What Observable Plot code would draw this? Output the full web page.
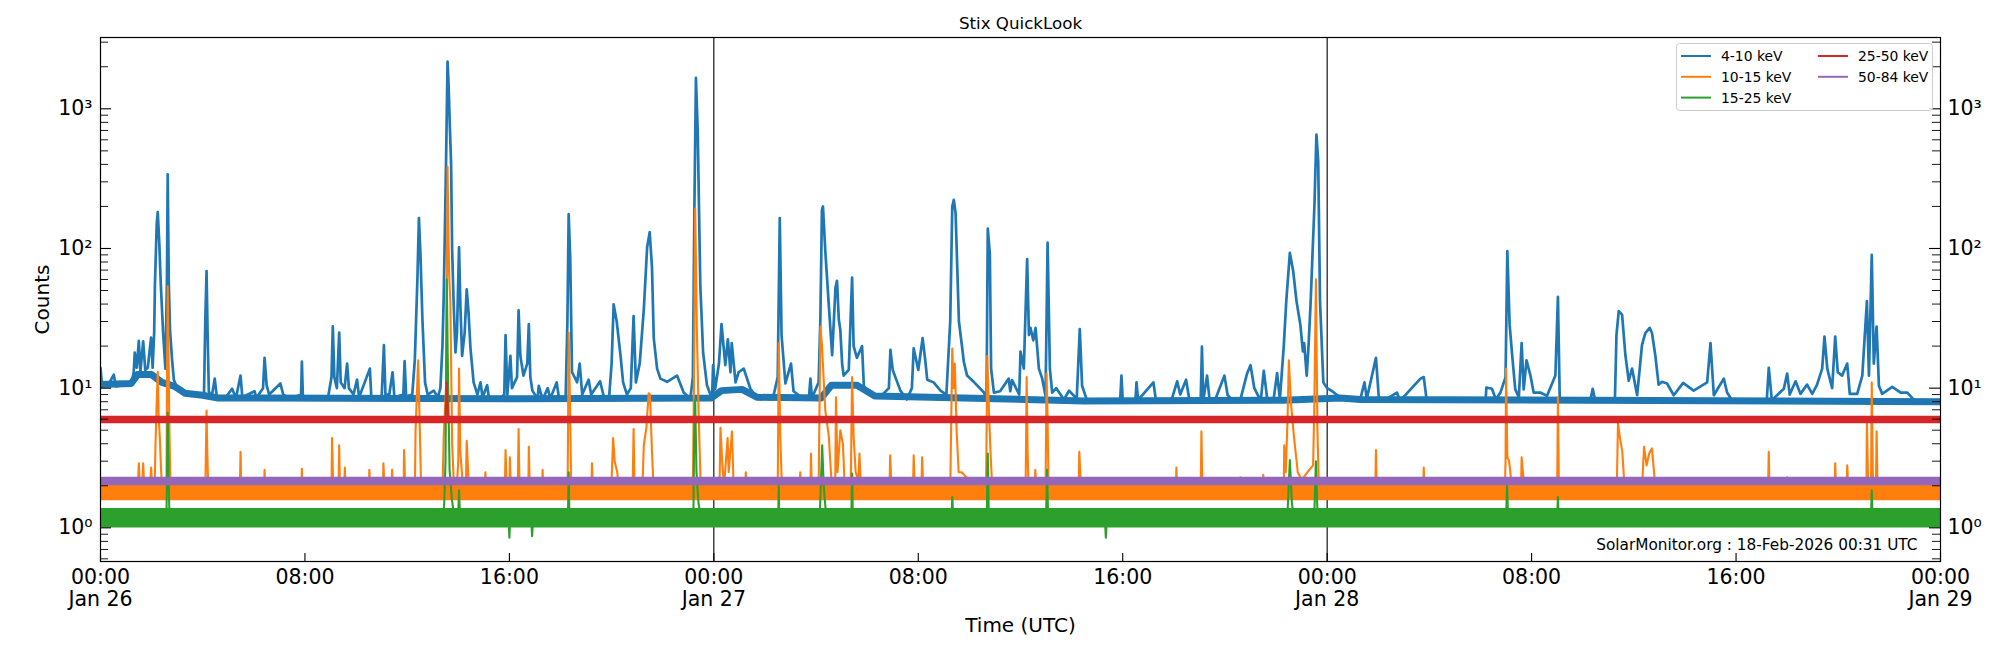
<!DOCTYPE html>
<html><head><meta charset="utf-8">
<script src="https://cdn.jsdelivr.net/npm/d3@7"></script>
<script src="https://cdn.jsdelivr.net/npm/@observablehq/plot@0.6"></script>
<style>
body{margin:0;background:#fff;}
#wrap{position:relative;width:2000px;height:650px;font-family:"DejaVu Sans";}
</style></head><body><div id="wrap"></div>
<script>
// ---------- labels, ticks ----------
const chartTitle = "Stix QuickLook";
const yLabel = "Counts";
const xLabel = "Time (UTC)";
const footer = "SolarMonitor.org : 18-Feb-2026 00:31 UTC";
const seriesLabels = ["4-10 keV", "10-15 keV", "15-25 keV", "25-50 keV", "50-84 keV"];
const seriesColors = ["#1f77b4", "#ff7f0e", "#2ca02c", "#d62728", "#9467bd"];
const yDomain = [0.574, 3240];
const yMajorTicks = [1, 10, 100, 1000];
const yMinorTicks = [0.6, 0.7, 0.8, 0.9, 2, 3, 4, 5, 6, 7, 8, 9, 20, 30, 40, 50, 60, 70, 80, 90,
  200, 300, 400, 500, 600, 700, 800, 900, 2000, 3000];
const xTickHours = [0, 8, 16, 24, 32, 40, 48, 56, 64, 72];
const dayLineHours = [24, 48];

// ---------- series: [hours since 26 Jan 2026 00:00 UTC, counts] ----------
const keV4_10 = [[0,14],[0.05,11],[0.3,10.5],[0.52,12.5],[0.6,10.3],[0.9,10.5],[1.1,11],[1.2,10.5],[1.3,13],[1.34,18],[1.42,14],[1.5,21.8],[1.56,13],[1.67,21.6],[1.75,13.5],[1.85,14],[1.98,23],[2.04,14],[2.1,25],[2.13,55],[2.2,150],[2.24,182],[2.3,110],[2.36,55],[2.45,25],[2.54,13.8],[2.6,60],[2.63,340],[2.67,60],[2.72,26],[2.8,16],[2.87,11.5],[3.0,10],[3.07,9.6],[3.3,9.2],[3.6,9.0],[3.9,8.8],[4.05,9.2],[4.1,30],[4.15,69],[4.19,25],[4.24,9.5],[4.35,8.6],[4.47,11.7],[4.55,8.7],[4.9,8.6],[5.15,9.9],[5.3,8.5],[5.48,12.3],[5.55,8.6],[6.03,9.5],[6.1,8.5],[6.36,10],[6.42,16.5],[6.5,10.5],[6.6,9],[7.04,10.8],[7.15,9],[7.4,8.4],[7.85,9],[7.88,15.5],[7.92,8.6],[8.4,8.3],[8.9,8.5],[9.04,12],[9.09,27.7],[9.15,12],[9.25,10],[9.34,25],[9.4,11],[9.55,10],[9.65,15],[9.72,10],[9.9,9],[10.04,11.5],[10.12,8.6],[10.54,13.8],[10.6,8.4],[11.0,8.5],[11.09,20.3],[11.15,9],[11.3,9],[11.43,13],[11.5,8.6],[11.85,9],[11.9,15.6],[11.96,8.7],[12.2,9],[12.3,16],[12.4,60],[12.46,165],[12.52,90],[12.6,30],[12.7,11],[12.8,9],[13.04,9.6],[13.2,8.6],[13.3,10],[13.38,20],[13.43,45],[13.52,400],[13.58,2175],[13.62,1500],[13.67,745],[13.72,400],[13.76,97],[13.82,40],[13.89,18],[13.95,25],[14.03,102],[14.08,40],[14.15,17],[14.25,25],[14.33,51],[14.4,35],[14.48,19],[14.6,11],[14.75,9],[14.87,11],[14.95,8.6],[15.13,10.5],[15.2,8.5],[15.6,8.3],[15.8,9],[15.85,24],[15.92,9],[16.04,17],[16.1,10],[16.3,12],[16.36,36],[16.43,17],[16.55,12.3],[16.7,15],[16.76,28.7],[16.82,12],[16.9,9.6],[17.1,8.4],[17.15,10.4],[17.3,8.3],[17.5,10],[17.6,8.4],[17.85,11],[17.95,8.3],[18.2,8.3],[18.27,30],[18.32,176],[18.38,86],[18.45,13],[18.55,12],[18.65,11],[18.75,15],[18.85,9],[19.1,11.5],[19.2,9],[19.55,11.2],[19.7,8.6],[19.9,8.5],[20.0,15],[20.08,39.8],[20.2,30],[20.35,17],[20.45,11],[20.6,9],[20.75,10],[20.86,32.8],[20.95,11],[21.1,15],[21.26,36.6],[21.39,102],[21.49,131],[21.58,73],[21.65,22.7],[21.78,13.8],[21.91,11.7],[22.17,11.1],[22.56,12.3],[22.82,9.3],[23.08,8.4],[23.18,12],[23.24,200],[23.30,1664],[23.37,680],[23.47,55],[23.58,18],[23.73,10.5],[23.93,8.4],[23.97,14.6],[24.05,9.8],[24.2,15],[24.3,28.7],[24.45,14.6],[24.55,22.4],[24.65,13],[24.7,21],[24.85,11],[24.97,13],[25.17,13.8],[25.43,9.9],[25.7,8.5],[26.3,8.3],[26.5,12],[26.58,165],[26.65,24],[26.8,10.8],[27.02,15],[27.12,9.5],[27.5,8.4],[27.72,8.5],[27.78,11.7],[27.84,8.5],[28.1,11],[28.17,31.8],[28.23,189],[28.27,200],[28.36,97],[28.5,39],[28.63,17.2],[28.76,52.5],[28.82,58.6],[28.89,31],[28.95,26],[29.02,15],[29.08,12.3],[29.28,13.5],[29.41,62],[29.47,20],[29.6,16.5],[29.8,20],[29.87,10.4],[30.1,9],[30.5,8.6],[30.85,10],[30.91,18.8],[31.0,13.5],[31.3,9.6],[31.55,8.3],[31.75,10],[31.82,19.3],[32.0,13.5],[32.17,22.8],[32.27,16],[32.35,11.5],[32.6,11],[32.87,9.6],[33.1,9],[33.25,30],[33.33,200],[33.39,223],[33.46,179],[33.59,30],[33.72,19.3],[33.78,15.5],[33.91,12.3],[34.17,11.1],[34.57,9.3],[34.67,8.4],[34.72,139],[34.8,91.5],[34.85,13.8],[34.96,9.3],[35.2,9.5],[35.54,11.7],[35.6,9.5],[35.67,11.4],[35.95,9],[36.0,18.3],[36.13,13.8],[36.26,84],[36.33,24],[36.39,27],[36.5,22],[36.59,27],[36.72,13.8],[36.85,11.7],[36.98,8.8],[37.06,110],[37.15,13.8],[37.24,9.3],[37.4,10],[37.7,8.3],[37.9,9.6],[38.2,8.4],[38.32,26.5],[38.41,10.4],[38.6,8.2],[39.5,8.0],[39.9,8.1],[39.95,12.3],[40.0,8.2],[40.5,8.3],[40.54,11],[40.6,8.2],[41.2,11],[41.3,8.2],[41.9,8.1],[42.13,11.2],[42.25,9],[42.48,11.5],[42.6,8.4],[43.05,8.2],[43.1,19.8],[43.15,8.1],[43.3,12.3],[43.4,8.2],[43.6,8.1],[43.98,12.3],[44.1,9],[44.3,8.1],[44.6,8.2],[44.87,12.8],[45.0,14.6],[45.15,10],[45.4,8.1],[45.52,13.3],[45.65,8.5],[45.9,8.2],[46.04,12.8],[46.15,8.3],[46.3,19.8],[46.4,42],[46.54,93],[46.67,69],[46.8,42],[46.95,28.5],[47.05,18.3],[47.1,21],[47.2,12.3],[47.27,20],[47.35,40],[47.5,200],[47.58,653],[47.65,420],[47.72,42],[47.85,11],[48.0,10],[48.2,9.5],[48.5,8.6],[49.0,8.3],[49.3,8.4],[49.46,11],[49.55,8.4],[49.91,16.5],[50.02,8.6],[50.3,8.3],[50.73,9.3],[50.85,8.1],[51.65,11.7],[51.78,12],[51.9,8.0],[53.0,8.1],[54.2,8.2],[54.23,10.1],[54.45,9.9],[54.6,8.3],[54.78,9.3],[54.98,12],[55.05,95.6],[55.14,28.5],[55.23,18],[55.36,9.8],[55.5,8.6],[55.61,21],[55.69,9.8],[55.8,15.8],[55.95,12.4],[56.08,9.3],[56.34,9.3],[56.6,8.8],[56.93,12.3],[57.03,45],[57.1,8.6],[57.3,8.0],[58.3,8.2],[58.39,9.9],[58.5,8.0],[59.26,8.3],[59.32,24],[59.41,35.6],[59.54,33.6],[59.67,17.2],[59.8,11.3],[59.93,13.8],[60.13,8.9],[60.32,20.4],[60.45,24.8],[60.62,27],[60.71,24.8],[60.84,17.2],[60.97,10.6],[61.1,11.1],[61.3,10.8],[61.56,8.9],[61.93,10.9],[62.34,9.6],[62.87,11],[63.0,21],[63.13,8.9],[63.52,11.7],[63.65,9.3],[63.82,8.3],[64.04,8.0],[65.2,8.1],[65.28,14],[65.4,8.2],[65.87,9.9],[66.0,12.7],[66.1,9],[66.33,11.2],[66.52,9.1],[66.78,10.6],[66.98,9.1],[67.17,10.6],[67.37,13.8],[67.46,23.4],[67.57,13.8],[67.76,10],[67.88,23.4],[67.98,13],[68.15,12.3],[68.35,15],[68.45,9.1],[68.74,9.1],[68.94,12.3],[69.12,42],[69.2,12.3],[69.31,90],[69.39,15],[69.5,27.6],[69.59,10.4],[69.72,9.1],[70.11,10.2],[70.44,9.3],[70.7,9.3],[71.0,8.1],[71.6,8.0],[72,8.2]];

const keV10_15 = [[0,1.8],[1.45,1.8],[1.5,2.9],[1.55,1.8],[1.62,1.8],[1.67,2.9],[1.72,1.8],[1.93,1.8],[1.98,2.7],[2.03,1.8],[2.12,2],[2.15,3.8],[2.2,8],[2.24,13.1],[2.28,6],[2.32,4.5],[2.37,2.6],[2.42,1.8],[2.58,1.8],[2.61,20],[2.63,53.5],[2.66,20],[2.69,6],[2.74,1.8],[4.1,1.8],[4.13,4],[4.15,6.9],[4.18,3.4],[4.22,1.8],[5.45,1.8],[5.48,3.5],[5.51,1.8],[6.4,1.8],[6.42,2.6],[6.45,1.8],[7.86,1.8],[7.88,2.65],[7.9,1.8],[9.04,1.8],[9.06,4.4],[9.1,2.2],[9.14,1.8],[9.31,1.8],[9.34,3.9],[9.37,1.8],[9.54,1.8],[9.56,2.7],[9.6,1.8],[10.5,1.8],[10.52,2.6],[10.56,1.8],[11.05,1.8],[11.07,2.9],[11.12,1.8],[11.39,1.8],[11.41,2.6],[11.45,1.8],[11.86,1.8],[11.88,3.6],[11.93,1.8],[12.3,1.8],[12.33,5.1],[12.43,15.8],[12.49,5.6],[12.55,1.8],[13.38,1.8],[13.43,4.5],[13.53,11],[13.58,384],[13.64,66],[13.69,42],[13.76,4],[13.82,2.2],[13.93,1.8],[14.0,3],[14.03,13.8],[14.08,3.5],[14.2,1.8],[14.3,2],[14.33,4.2],[14.41,2],[14.5,1.8],[15.04,1.8],[15.06,2.5],[15.1,1.8],[15.82,1.8],[15.85,3.6],[15.9,1.8],[16.0,1.8],[16.02,3.2],[16.06,1.8],[16.33,2],[16.36,5.1],[16.4,1.8],[16.74,1.8],[16.76,3.8],[16.8,1.8],[17.28,1.8],[17.3,2.6],[17.33,1.8],[18.28,2],[18.32,25],[18.38,6],[18.42,1.8],[19.21,1.8],[19.23,2.9],[19.27,1.8],[19.98,1.8],[20.06,4.4],[20.12,3],[20.22,2.5],[20.3,1.8],[20.82,1.8],[20.86,5.1],[20.9,1.8],[21.2,1.8],[21.26,3.9],[21.36,5.2],[21.45,9.2],[21.5,9],[21.58,3.5],[21.65,1.8],[23.18,1.8],[23.22,10],[23.27,193],[23.34,24],[23.41,6],[23.48,2.2],[23.55,1.8],[24.22,1.8],[24.26,5.2],[24.33,2.9],[24.4,2],[24.54,4.4],[24.58,2.5],[24.71,4.9],[24.78,1.8],[25.22,1.8],[25.25,2.5],[25.3,1.8],[26.5,1.8],[26.54,21],[26.6,4.5],[26.67,1.8],[27.35,1.8],[27.38,2.5],[27.42,1.8],[27.78,1.8],[27.8,3.4],[27.84,1.8],[28.1,1.8],[28.17,27.6],[28.23,20.4],[28.36,7],[28.5,4.5],[28.6,2.2],[28.75,2],[28.78,8.6],[28.84,2.5],[28.95,5],[29.05,4],[29.12,2],[29.36,2.2],[29.41,12],[29.47,4.5],[29.55,2.5],[29.65,2.2],[29.7,3.4],[29.75,2],[29.8,1.8],[30.87,1.8],[30.9,3.3],[30.96,1.8],[31.79,1.8],[31.82,3.3],[31.87,1.8],[32.12,1.8],[32.15,3.2],[32.2,1.8],[33.25,1.8],[33.3,8],[33.33,19.2],[33.38,10],[33.43,15],[33.5,5],[33.58,2.5],[33.7,2.5],[33.98,2.2],[34.05,1.8],[34.65,1.8],[34.7,17],[34.77,6.5],[34.83,3.4],[34.9,1.8],[36.2,1.8],[36.24,12],[36.28,3.4],[36.32,1.8],[36.55,1.8],[36.58,2.6],[36.63,1.8],[36.98,1.8],[37.02,12.7],[37.06,6],[37.1,1.8],[38.27,1.8],[38.3,3.5],[38.34,2.5],[38.38,1.8],[42.08,1.8],[42.1,2.7],[42.13,1.8],[43.05,1.8],[43.08,4.9],[43.12,1.8],[44.58,1.8],[44.6,2.3],[44.62,1.8],[45.48,1.8],[45.5,2.4],[45.52,1.8],[46.3,1.8],[46.32,3.9],[46.38,2.5],[46.45,6],[46.5,15.8],[46.58,8],[46.7,4.5],[46.85,2.5],[47.0,2.2],[47.3,2.6],[47.45,2.8],[47.5,8],[47.56,60.2],[47.62,5],[47.68,1.8],[49.88,1.8],[49.91,3.6],[49.94,1.8],[51.75,1.8],[51.78,2.7],[51.81,1.8],[54.95,1.8],[54.98,3],[55.0,13.8],[55.05,3.2],[55.12,3],[55.2,2.2],[55.3,1.8],[55.58,1.8],[55.61,3.2],[55.66,2.5],[55.75,1.8],[57.0,1.8],[57.03,8.6],[57.07,1.8],[59.33,1.8],[59.38,5.65],[59.45,4.5],[59.55,3.5],[59.62,2.2],[59.66,1.8],[60.33,1.8],[60.35,2.5],[60.4,3.8],[60.5,2.8],[60.6,3.4],[60.71,3.7],[60.8,2.4],[60.85,1.8],[65.25,1.8],[65.28,3.5],[65.31,1.8],[65.97,1.8],[66.0,2.3],[66.05,1.8],[67.85,1.8],[67.88,2.9],[67.92,1.8],[68.32,1.8],[68.35,2.8],[68.4,1.8],[69.1,1.8],[69.12,5.8],[69.16,2.5],[69.19,1.8],[69.28,1.8],[69.31,11],[69.35,2.5],[69.38,1.8],[69.47,1.8],[69.5,4.9],[69.54,1.8],[72,1.8]];

const keV15_25 = [[0,1.18],[2.58,1.18],[2.61,3],[2.63,6.7],[2.66,2.5],[2.7,1.18],[13.4,1.18],[13.45,1.5],[13.5,3],[13.55,60],[13.6,11],[13.66,2.6],[13.75,1.6],[13.85,1.18],[14.0,1.3],[14.03,1.86],[14.07,1.18],[15.97,1.18],[16.0,0.85],[16.03,1.18],[16.85,1.18],[16.89,0.87],[16.93,1.18],[18.29,1.18],[18.32,2.5],[18.35,1.18],[23.2,1.18],[23.23,4.5],[23.27,8.4],[23.32,2.5],[23.4,1.5],[23.5,1.18],[26.52,1.18],[26.54,2.0],[26.56,1.18],[28.12,1.18],[28.15,1.3],[28.24,3.9],[28.3,2],[28.4,1.18],[29.38,1.18],[29.41,2.45],[29.44,1.18],[33.3,1.18],[33.33,1.66],[33.37,1.18],[34.68,1.18],[34.72,3.4],[34.76,1.18],[37.0,1.18],[37.04,2.6],[37.08,1.18],[39.3,1.18],[39.34,0.85],[39.38,1.18],[46.42,1.18],[46.45,1.3],[46.54,3.06],[46.62,1.5],[46.7,1.18],[47.5,1.3],[47.56,3.0],[47.62,1.3],[47.7,1.18],[55.0,1.18],[55.04,2.0],[55.08,1.18],[57.0,1.18],[57.03,1.66],[57.06,1.18],[69.28,1.18],[69.31,1.86],[69.34,1.18],[72,1.18]];

const keV25_50 = [[0,5.96],[13.5,5.96],[13.55,11],[13.6,5.96],[72,5.96]];
const keV50_84 = [[0,2.16],[72,2.16]];

// background (noise-band) levels
const bg4_10 = [[0,10.6],[1.2,10.8],[1.45,12.5],[2.0,12.5],[2.4,11],[2.9,10.3],[3.3,9.2],[4.0,8.9],[4.6,8.5],[16.4,8.4],[23.9,8.5],[24.3,9.6],[25.1,9.8],[25.7,8.6],[28.2,8.5],[28.6,10.5],[29.6,10.5],[30.3,8.8],[38.5,8.1],[46.3,8.2],[48.5,8.5],[49.3,8.3],[72,8.0]];
const bg10_15 = [[0,1.8],[72,1.8]];
const bg15_25 = [[0,1.18],[72,1.18]];
const bg25_50 = [[0,5.96],[72,5.96]];
const bg50_84 = [[0,2.16],[72,2.16]];

// ---------- build ----------
const W = 2000, H = 650, mL = 100, mR = 60, mT = 37, mB = 89;
const plotW = W - mL - mR, plotH = H - mT - mB;
const t0 = Date.UTC(2026, 0, 26);
const toDate = h => new Date(t0 + h * 3600e3);
const rows = pts => pts.map(([h, v]) => ({t: toDate(h), v}));
const details = [keV4_10, keV10_15, keV15_25, keV25_50, keV50_84];
const bands = [bg4_10, bg10_15, bg15_25, bg25_50, bg50_84];
const bandWidths = [7, 16, 19.5, 7.5, 8.5];
const lineWidths = [2.7, 2.1, 2.1, 2, 2];

const supDigits = {"0": "\u2070", "1": "\u00b9", "2": "\u00b2", "3": "\u00b3"};
const supFormat = d => "10" + supDigits[String(Math.round(Math.log10(d)))];
const hm = d3.utcFormat("%H:%M"), md = d3.utcFormat("%b %d");
const xFormat = d => d.getUTCHours() === 0 ? hm(d) + "\n" + md(d) : hm(d);

const marks = [];
marks.push(Plot.ruleX(dayLineHours.map(toDate), {stroke: "black", strokeWidth: 1.1}));
seriesLabels.forEach((lab, i) => {
  marks.push(Plot.line(rows(bands[i]), {x: "t", y: "v", stroke: seriesColors[i], strokeWidth: bandWidths[i], clip: true}));
  marks.push(Plot.line(rows(details[i]), {x: "t", y: "v", stroke: seriesColors[i], strokeWidth: lineWidths[i], clip: true}));
});
// inward ticks
marks.push(Plot.ruleY(yMajorTicks, {insetRight: plotW - 11, stroke: "black", strokeWidth: 1.1}));
marks.push(Plot.ruleY(yMinorTicks, {insetRight: plotW - 8, stroke: "black", strokeWidth: 0.9}));
marks.push(Plot.ruleY(yMajorTicks, {insetLeft: plotW - 11, stroke: "black", strokeWidth: 1.1}));
marks.push(Plot.ruleY(yMinorTicks, {insetLeft: plotW - 8, stroke: "black", strokeWidth: 0.9}));
marks.push(Plot.ruleX(xTickHours.map(toDate), {insetTop: plotH - 8, stroke: "black", strokeWidth: 1.1}));
marks.push(Plot.frame({stroke: "black", strokeWidth: 1.2}));
// axes labels
marks.push(Plot.axisX({ticks: xTickHours.map(toDate), tickSize: 0, tickPadding: 6, tickFormat: xFormat, fontSize: 20.5, lineHeight: 1.1, label: null}));
marks.push(Plot.axisY({anchor: "left", ticks: yMajorTicks, tickSize: 0, tickPadding: 8, tickFormat: supFormat, fontSize: 20.5, label: null}));
marks.push(Plot.axisY({anchor: "right", ticks: yMajorTicks, tickSize: 0, tickPadding: 7, tickFormat: supFormat, fontSize: 20.5, label: null}));
// texts
marks.push(Plot.text([chartTitle], {text: d => d, frameAnchor: "top", dy: -14, lineAnchor: "middle", textAnchor: "middle", fontSize: 16.7}));
marks.push(Plot.text([yLabel], {text: d => d, frameAnchor: "left", dx: -58, rotate: -90, lineAnchor: "middle", textAnchor: "middle", fontSize: 20}));
marks.push(Plot.text([xLabel], {text: d => d, frameAnchor: "bottom", dy: 64, lineAnchor: "middle", textAnchor: "middle", fontSize: 20}));
marks.push(Plot.text([footer], {text: d => d, frameAnchor: "bottom-right", dx: -23, dy: -16, lineAnchor: "middle", textAnchor: "end", fontSize: 15.3}));

const chart = Plot.plot({
  width: W, height: H,
  marginLeft: mL, marginRight: mR, marginTop: mT, marginBottom: mB,
  style: {fontFamily: "DejaVu Sans", fontSize: "20px", color: "black", background: "white", overflow: "visible"},
  x: {type: "utc", domain: [toDate(0), toDate(72)]},
  y: {type: "log", domain: yDomain},
  marks
});
const wrap = document.getElementById("wrap");
wrap.appendChild(chart);

// legend (top-right, inside axes)
const legend = d3.select(wrap).append("svg").attr("width", 258).attr("height", 69)
  .style("position", "absolute").style("left", "1676px").style("top", "43px");
legend.append("rect").attr("x", 0.5).attr("y", 0.5).attr("width", 256).attr("height", 67).attr("rx", 3)
  .attr("fill", "white").attr("fill-opacity", 0.8).attr("stroke", "#cccccc");
seriesLabels.forEach((lab, i) => {
  const col = i < 3 ? 0 : 1, row = i < 3 ? i : i - 3;
  const x0 = 5 + col * 137, y0 = 13 + row * 20.8;
  legend.append("line").attr("x1", x0).attr("x2", x0 + 30).attr("y1", y0).attr("y2", y0)
    .attr("stroke", seriesColors[i]).attr("stroke-width", 2);
  legend.append("text").attr("x", x0 + 40).attr("y", y0 + 5.3).text(lab)
    .attr("font-family", "DejaVu Sans").attr("font-size", 13.9).attr("fill", "black");
});
</script></body></html>
